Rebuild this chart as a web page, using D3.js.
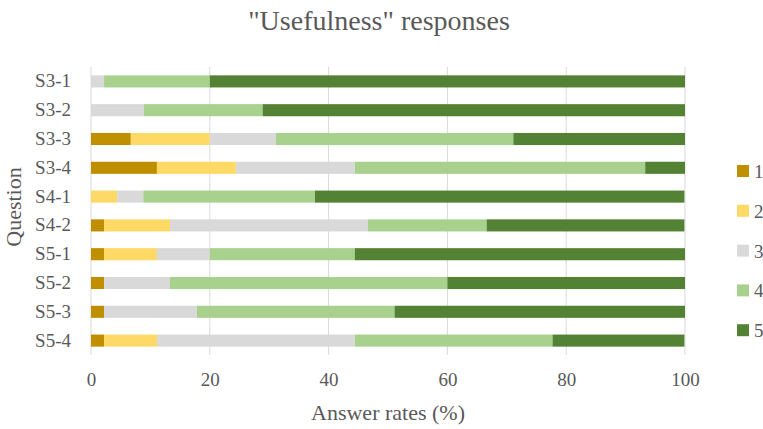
<!DOCTYPE html>
<html>
<head>
<meta charset="utf-8">
<script src="https://cdn.jsdelivr.net/npm/d3@7"></script>
<style>
  body { margin: 0; background: #fff; }
  svg text { font-family: "Liberation Serif", "DejaVu Serif", serif; fill: #595959; }
</style>
</head>
<body>
<div id="chart"></div>
<script>
// questions, top to bottom
const questions = ["S3-1", "S3-2", "S3-3", "S3-4", "S4-1", "S4-2", "S5-1", "S5-2", "S5-3", "S5-4"];
const levels = ["1", "2", "3", "4", "5"];
// answer rates (%) per level, one value per question
const r1 = [0, 0, 6.7, 11.1, 0, 2.2, 2.2, 2.2, 2.2, 2.2];
const r2 = [0, 0, 13.3, 13.3, 4.4, 11.1, 8.9, 0, 0, 8.9];
const r3 = [2.2, 8.9, 11.1, 20.0, 4.4, 33.3, 8.9, 11.1, 15.6, 33.3];
const r4 = [17.8, 20.0, 40.0, 48.9, 28.9, 20.0, 24.4, 46.7, 33.3, 33.3];
const r5 = [80.0, 71.1, 28.9, 6.7, 62.2, 33.3, 55.6, 40.0, 48.9, 22.2];
const xTicks = [0, 20, 40, 60, 80, 100];
const colors = ["#BF8F00", "#FFD966", "#D9D9D9", "#A9D18E", "#548235"];

const width = 763, height = 429;
const margin = {top: 67, right: 78, bottom: 74, left: 91};

const svg = d3.select("#chart").append("svg")
  .attr("width", width)
  .attr("height", height);

const rows = questions.map(function(q, i) {
  return {q: q, "1": r1[i], "2": r2[i], "3": r3[i], "4": r4[i], "5": r5[i]};
});
const series = d3.stack().keys(levels)(rows);

const x = d3.scaleLinear().domain([0, 100]).range([margin.left, width - margin.right]);
const y = d3.scaleBand().domain(questions)
  .range([margin.top, height - margin.bottom])
  .paddingInner(0.58).paddingOuter(0.29);

// gridlines
svg.append("g")
  .selectAll("line")
  .data(xTicks)
  .enter().append("line")
  .attr("x1", d => x(d)).attr("x2", d => x(d))
  .attr("y1", margin.top).attr("y2", height - margin.bottom)
  .attr("stroke", "#d9d9d9")
  .attr("stroke-width", 1);

// bars
svg.append("g")
  .selectAll("g")
  .data(series)
  .enter().append("g")
  .attr("fill", (d, i) => colors[i])
  .selectAll("rect")
  .data(d => d)
  .enter().append("rect")
  .attr("x", d => x(d[0]))
  .attr("y", d => y(d.data.q))
  .attr("width", d => x(d[1]) - x(d[0]))
  .attr("height", y.bandwidth());

// x axis
const xAxis = svg.append("g")
  .attr("transform", `translate(0,${height - margin.bottom + 8})`)
  .call(d3.axisBottom(x).tickValues(xTicks).tickSize(0).tickPadding(10));
xAxis.select(".domain").remove();
xAxis.selectAll("text").style("font-size", "19px");

// y axis
const yAxis = svg.append("g")
  .attr("transform", `translate(${margin.left - 20},0)`)
  .call(d3.axisLeft(y).tickSize(0).tickPadding(0));
yAxis.select(".domain").remove();
yAxis.selectAll("text").style("font-size", "19px");

// title
svg.append("text")
  .attr("x", 379).attr("y", 30)
  .attr("text-anchor", "middle")
  .style("font-size", "28px")
  .text('"Usefulness" responses');

svg.append("text")
  .attr("x", 388).attr("y", 420)
  .attr("text-anchor", "middle")
  .style("font-size", "22px")
  .text("Answer rates (%)");

svg.append("text")
  .attr("transform", "translate(21,207) rotate(-90)")
  .attr("text-anchor", "middle")
  .style("font-size", "22px")
  .text("Question");

// legend
const legend = svg.append("g")
  .selectAll("g")
  .data(levels)
  .enter().append("g")
  .attr("transform", (d, i) => `translate(737,${171 + i * 39.8})`);
legend.append("rect")
  .attr("x", 0).attr("y", -6)
  .attr("width", 12).attr("height", 12)
  .attr("fill", (d, i) => colors[i]);
legend.append("text")
  .attr("x", 17).attr("y", 7)
  .style("font-size", "19px")
  .text(d => d);
</script>
</body>
</html>
